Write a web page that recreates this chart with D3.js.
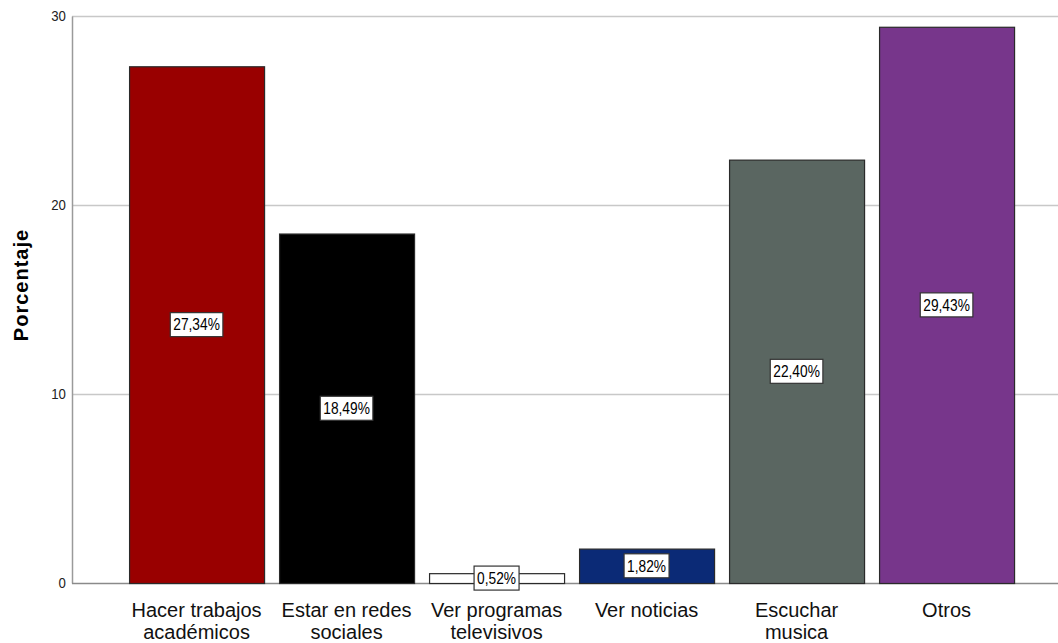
<!DOCTYPE html>
<html lang="es">
<head>
<meta charset="UTF-8">
<title>Porcentaje</title>
<script src="https://cdn.jsdelivr.net/npm/d3@7"></script>
<style>
	body { margin: 0; background: #fff; }
	text { font-family: "Liberation Sans", Arial, sans-serif; }
</style>
</head>
<body>
<script>
	var categories = [["Hacer trabajos", "académicos"], ["Estar en redes", "sociales"], ["Ver programas", "televisivos"], ["Ver noticias"], ["Escuchar", "musica"], ["Otros"]];
	var values = [27.34, 18.49, 0.52, 1.82, 22.40, 29.43];
	var colors = ["#990000", "#000000", "#ffffff", "#0b2a76", "#5a6661", "#77368b"];
	var yTicks = [0, 10, 20, 30];

	var W = 1058, H = 643;
	var plotLeft = 72, plotTop = 16, plotBottom = 583;

	var svg = d3.select("body").append("svg")
		.attr("width", W).attr("height", H);

	var x = d3.scaleBand()
		.domain(d3.range(categories.length))
		.range([plotLeft, W])
		.paddingInner(0.1)
		.paddingOuter(0.3367)
		.align(0.565);

	var y = d3.scaleLinear().domain([0, 30]).range([plotBottom, plotTop]);

	// gridlines
	svg.selectAll(".grid").data(yTicks.filter(function (d) { return d > 0; }))
		.enter().append("line")
		.attr("x1", plotLeft).attr("x2", W)
		.attr("y1", function (d) { return y(d) + 0.5; })
		.attr("y2", function (d) { return y(d) + 0.5; })
		.attr("stroke", "#c8c8c8").attr("stroke-width", 1.5);

	// y axis
	var yAxis = svg.append("g")
		.attr("transform", "translate(" + plotLeft + ",0)")
		.call(d3.axisLeft(y).tickValues(yTicks).tickSize(0).tickPadding(7));
	yAxis.select(".domain").attr("stroke", "#9a9a9a").attr("stroke-width", 1.5);
	yAxis.selectAll("text")
		.attr("font-size", 15).attr("fill", "#222")
		.attr("transform", "scale(0.88,1)")
		.style("font-family", "'Liberation Sans', Arial, sans-serif");

	// baseline
	svg.append("line")
		.attr("x1", plotLeft).attr("x2", W)
		.attr("y1", y(0) + 0.5).attr("y2", y(0) + 0.5)
		.attr("stroke", "#8a8a8a").attr("stroke-width", 1.5);

	// bars
	svg.selectAll(".bar").data(values).enter().append("rect")
		.attr("x", function (d, i) { return x(i) + 0.5; })
		.attr("y", function (d) { return y(d) + 0.5; })
		.attr("width", x.bandwidth())
		.attr("height", function (d) { return y(0) - y(d); })
		.attr("fill", function (d, i) { return colors[i]; })
		.attr("stroke", "#2a2a2a").attr("stroke-width", 1.2);

	// value labels
	var lab = svg.selectAll(".lab").data(values).enter().append("g")
		.attr("transform", function (d, i) {
			return "translate(" + (x(i) + x.bandwidth() / 2) + "," + ((y(0) + y(d)) / 2) + ")";
		});
	lab.append("text")
		.attr("text-anchor", "middle").attr("dy", "0.36em")
		.attr("font-size", 16).attr("fill", "#000")
		.attr("transform", "scale(0.86,1)")
		.text(function (d) { return d.toFixed(2).replace(".", ",") + "%"; });
	lab.each(function () {
		var g = d3.select(this);
		var bb = g.select("text").node().getBBox();
		var w = bb.width * 0.86 + 6;
		g.insert("rect", "text")
			.attr("x", -w / 2).attr("y", -12)
			.attr("width", w).attr("height", 24)
			.attr("fill", "#fff").attr("stroke", "#333").attr("stroke-width", 1.2);
	});

	// category labels
	svg.selectAll(".cat").data(categories).enter().append("text")
		.attr("text-anchor", "middle")
		.attr("font-size", 20).attr("fill", "#111")
		.attr("transform", function (d, i) {
			return "translate(" + (x(i) + x.bandwidth() / 2) + ",617)";
		})
		.each(function (d) {
			var t = d3.select(this);
			d.forEach(function (line, k) {
				t.append("tspan")
					.attr("x", 0)
					.attr("dy", k === 0 ? 0 : 22)
					.text(line);
			});
		});

	// y title
	svg.append("text")
		.attr("transform", "translate(28,285) rotate(-90)")
		.attr("text-anchor", "middle")
		.attr("font-size", 20).attr("font-weight", "bold")
		.attr("letter-spacing", 1)
		.text("Porcentaje");
</script>
</body>
</html>
